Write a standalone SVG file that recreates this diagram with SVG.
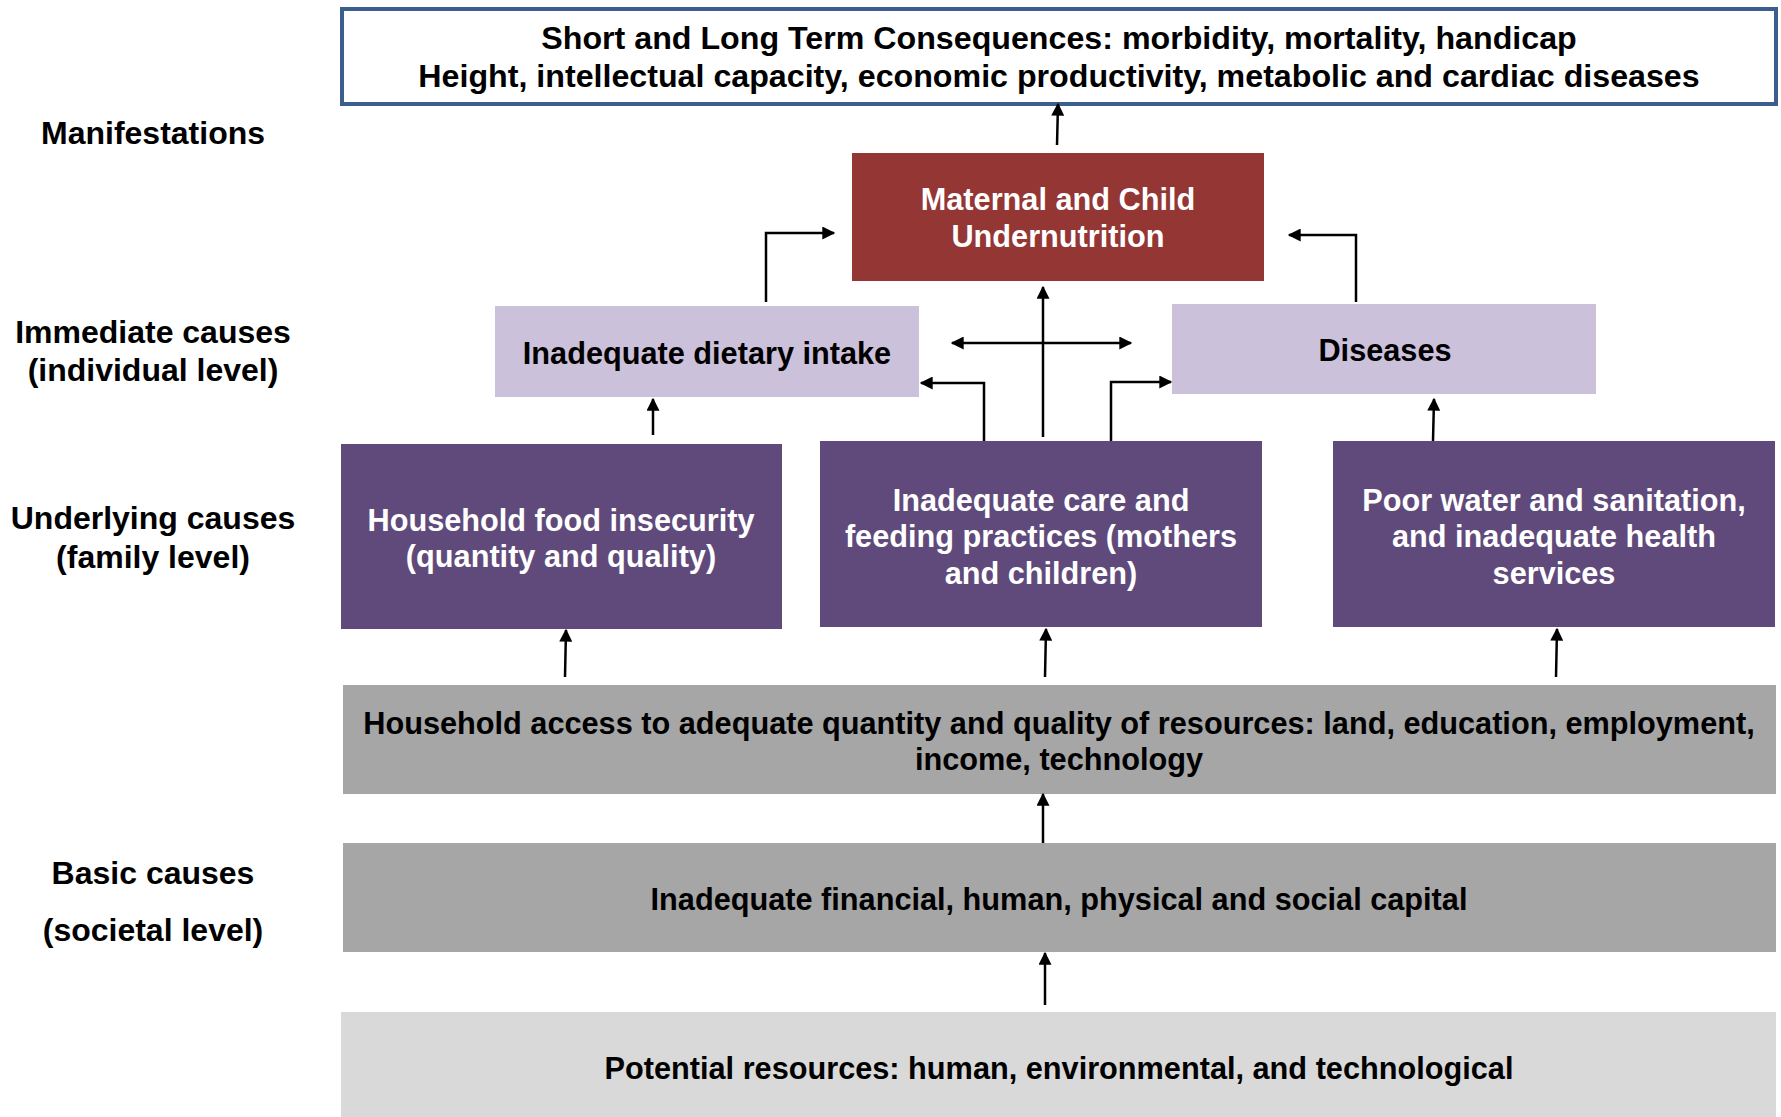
<svg xmlns="http://www.w3.org/2000/svg" width="1781" height="1117" viewBox="0 0 1781 1117">
<style>
text{font-family:"Liberation Sans",Arial,sans-serif;font-weight:bold;font-size:30.7px;text-anchor:middle}
.dk{fill:#000}
.wt{fill:#fff}
.lbl{font-size:32px}
.top{font-size:32.2px}
.ar{stroke:#000;stroke-width:2.5;fill:none;marker-end:url(#ah)}
.ar2{stroke:#000;stroke-width:2.5;fill:none;marker-end:url(#ah);marker-start:url(#ahs)}
</style>
<defs>
<marker id="ah" viewBox="0 0 10 10" refX="9" refY="5" markerWidth="5.6" markerHeight="5.2" orient="auto" markerUnits="strokeWidth"><path d="M0,0 L10,5 L0,10 z" fill="#000"/></marker>
<marker id="ahs" viewBox="0 0 10 10" refX="1" refY="5" markerWidth="5.6" markerHeight="5.2" orient="auto" markerUnits="strokeWidth"><path d="M10,0 L0,5 L10,10 z" fill="#000"/></marker>
</defs>
<rect width="1781" height="1117" fill="#fff"/>
<g id="labels">
<text class="lbl" x="153" y="144">Manifestations</text>
<text class="lbl" x="153" y="343">Immediate causes</text>
<text class="lbl" x="153" y="381">(individual level)</text>
<text class="lbl" x="153" y="529">Underlying causes</text>
<text class="lbl" x="153" y="568">(family level)</text>
<text class="lbl" x="153" y="884">Basic causes</text>
<text class="lbl" x="153" y="941">(societal level)</text>
</g>
<g id="consequences">
<rect x="342" y="9" width="1434" height="95" fill="#fff" stroke="#3A5F8F" stroke-width="4"/>
<text class="dk top" x="1059" y="49">Short and Long Term Consequences: morbidity, mortality, handicap</text>
<text class="dk top" x="1059" y="87">Height, intellectual capacity, economic productivity, metabolic and cardiac diseases</text>
</g>
<g id="undernutrition">
<rect x="852" y="153" width="412" height="128" fill="#943634"/>
<text class="wt" x="1058" y="210">Maternal and Child</text>
<text class="wt" x="1058" y="247">Undernutrition</text>
</g>
<g id="dietary">
<rect x="495" y="306" width="424" height="91" fill="#CCC1DA"/>
<text class="dk" x="707" y="364">Inadequate dietary intake</text>
</g>
<g id="diseases">
<rect x="1172" y="304" width="424" height="90" fill="#CCC1DA"/>
<text class="dk" x="1385" y="361">Diseases</text>
</g>
<g id="foodinsecurity">
<rect x="341" y="444" width="441" height="185" fill="#604A7B"/>
<text class="wt" x="561" y="531">Household food insecurity</text>
<text class="wt" x="561" y="567">(quantity and quality)</text>
</g>
<g id="care">
<rect x="820" y="441" width="442" height="186" fill="#604A7B"/>
<text class="wt" x="1041" y="511">Inadequate care and</text>
<text class="wt" x="1041" y="547">feeding practices (mothers</text>
<text class="wt" x="1041" y="584">and children)</text>
</g>
<g id="water">
<rect x="1333" y="441" width="442" height="186" fill="#604A7B"/>
<text class="wt" x="1554" y="511">Poor water and sanitation,</text>
<text class="wt" x="1554" y="547">and inadequate health</text>
<text class="wt" x="1554" y="584">services</text>
</g>
<g id="access">
<rect x="343" y="685" width="1433" height="109" fill="#A6A6A6"/>
<text class="dk" x="1059" y="734">Household access to adequate quantity and quality of resources: land, education, employment,</text>
<text class="dk" x="1059" y="770">income, technology</text>
</g>
<g id="capital">
<rect x="343" y="843" width="1433" height="109" fill="#A6A6A6"/>
<text class="dk" x="1059" y="910">Inadequate financial, human, physical and social capital</text>
</g>
<g id="potential">
<rect x="341" y="1012" width="1435" height="105" fill="#D9D9D9"/>
<text class="dk" x="1059" y="1079">Potential resources: human, environmental, and technological</text>
</g>
<g id="connectors">
<path class="ar" d="M1057,145 L1058,104"/>
<path class="ar" d="M766,302 L766,233 L834,233"/>
<path class="ar" d="M1356,302 L1356,235 L1289,235"/>
<path class="ar" d="M1043,437 L1043,287"/>
<path class="ar2" d="M952,343 L1131,343"/>
<path class="ar" d="M984,441 L984,383 L921,383"/>
<path class="ar" d="M1111,441 L1111,382 L1171,382"/>
<path class="ar" d="M653,435 L653,399"/>
<path class="ar" d="M1433,441 L1434,399"/>
<path class="ar" d="M565,677 L566,630"/>
<path class="ar" d="M1045,677 L1046,629"/>
<path class="ar" d="M1556,677 L1557,629"/>
<path class="ar" d="M1043,843 L1043,794"/>
<path class="ar" d="M1045,1005 L1045,953"/>
</g>
</svg>
